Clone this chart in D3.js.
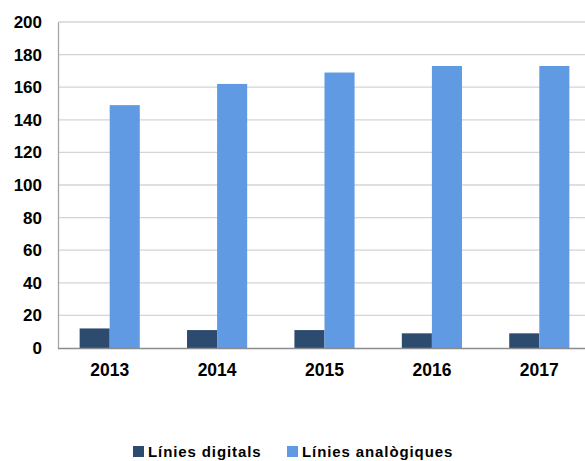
<!DOCTYPE html>
<html>
<head>
<meta charset="utf-8">
<script src="https://cdn.jsdelivr.net/npm/d3@7"></script>
<style>
  body { margin: 0; background: #fff; }
  text { font-family: "Liberation Sans", Arial, sans-serif; fill: #000; font-weight: bold; }
</style>
</head>
<body>
<script>
const years = ['2013', '2014', '2015', '2016', '2017']
const series = ['Línies digitals', 'Línies analògiques']
const digital = [12, 11, 11, 9, 9]
const analog = [149, 162, 169, 173, 173]
const yTicks = [0, 20, 40, 60, 80, 100, 120, 140, 160, 180, 200]
const colors = ['#2d4a6f', '#5f9ae2']

const w = 585
const h = 461

const svg = d3.select('body')
  .append('svg')
  .attr('width', w)
  .attr('height', h)

const x0 = d3.scaleBand()
  .domain(years)
  .range([56, 593])
  .paddingInner(0.44)
  .paddingOuter(0.22)

const x1 = d3.scaleBand()
  .domain(series)
  .range([0, x0.bandwidth()])

const y = d3.scaleLinear()
  .domain([0, 200])
  .range([348, 22])

// gridlines
svg.append('g')
  .selectAll('line')
  .data(yTicks.filter(d => d > 0))
  .enter()
  .append('line')
  .attr('x1', 58)
  .attr('x2', w)
  .attr('y1', d => y(d))
  .attr('y2', d => y(d))
  .attr('stroke', '#d4d4d4')
  .attr('stroke-width', 1.3)

// y axis
const yAxis = d3.axisLeft(y).tickValues(yTicks).tickSize(0).tickPadding(16)
const gy = svg.append('g')
  .attr('transform', 'translate(58,0)')
  .call(yAxis)
gy.select('.domain').attr('stroke', '#a6a6a6').attr('stroke-width', 1.3)
gy.selectAll('text').style('font-size', '17px')

// bars
const rows = years.map((yr, i) => ({ year: yr, values: [digital[i], analog[i]] }))

svg.append('g')
  .selectAll('g')
  .data(rows)
  .enter()
  .append('g')
  .attr('transform', d => 'translate(' + x0(d.year) + ',0)')
  .selectAll('rect')
  .data(d => d.values.map((v, j) => ({ key: series[j], v: v, j: j })))
  .enter()
  .append('rect')
  .attr('x', d => x1(d.key))
  .attr('width', x1.bandwidth())
  .attr('y', d => y(d.v))
  .attr('height', d => y(0) - y(d.v))
  .attr('fill', d => colors[d.j])

// x axis
const xAxis = d3.axisBottom(x0).tickSize(0).tickPadding(16)
const gx = svg.append('g')
  .attr('transform', 'translate(0,348)')
  .call(xAxis)
gx.select('.domain').remove()
gx.selectAll('text').style('font-size', '17.5px')
svg.append('line')
  .attr('x1', 58).attr('x2', w)
  .attr('y1', 348.5).attr('y2', 348.5)
  .attr('stroke', '#8c8c8c')
  .attr('stroke-width', 1.5)

// legend
const legendX = [133, 287]
const legend = svg.append('g')
  .selectAll('g')
  .data(series)
  .enter()
  .append('g')
  .attr('transform', (d, i) => 'translate(' + legendX[i] + ',446)')
legend.append('rect')
  .attr('width', 11)
  .attr('height', 11)
  .attr('fill', (d, i) => colors[i])
legend.append('text')
  .attr('x', 15)
  .attr('y', 6)
  .attr('dy', '0.35em')
  .style('font-size', '15px')
  .style('letter-spacing', '0.9px')
  .text(d => d)
</script>
</body>
</html>
